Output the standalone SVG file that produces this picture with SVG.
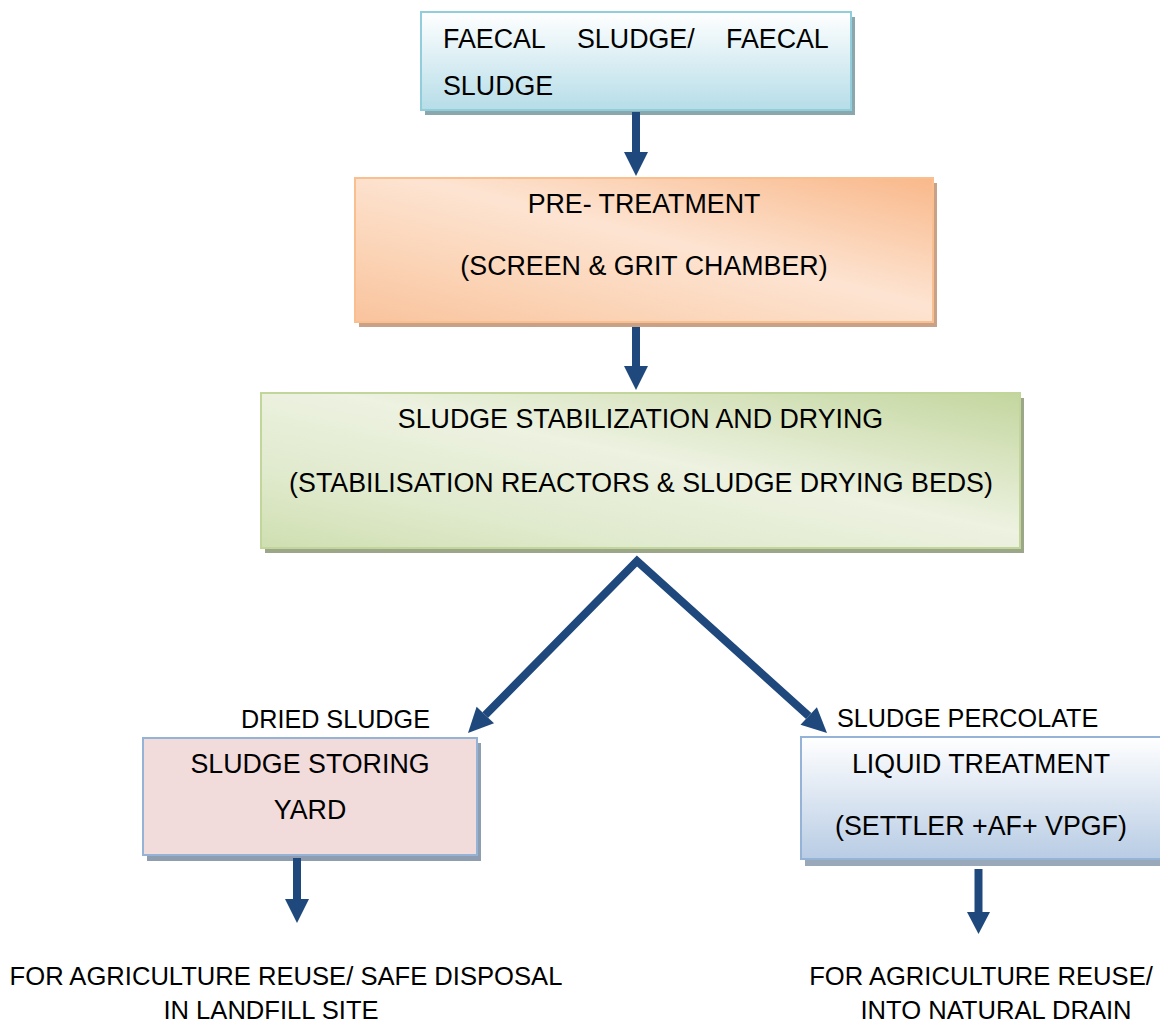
<svg xmlns="http://www.w3.org/2000/svg" width="1160" height="1025" viewBox="0 0 1160 1025">
<style>
  text { font-family: "Liberation Sans", Arial, sans-serif; fill: #000; }
  .t { font-size: 26.8px; }
  .c { text-anchor: middle; }
  .l { font-size: 25.2px; }
  .b { font-size: 25.6px; }
  .arrow { fill: #1f497d; }
  .shaft { stroke: #1f497d; stroke-width: 8; fill: none; }
</style>
<defs>
  <linearGradient id="gBlueTop" x1="0" y1="0" x2="0" y2="1">
    <stop offset="0" stop-color="#ffffff"/>
    <stop offset="1" stop-color="#b6dde8"/>
  </linearGradient>
  <linearGradient id="gOrange" x1="1" y1="0" x2="0" y2="1">
    <stop offset="0" stop-color="#f9b88a"/>
    <stop offset="0.45" stop-color="#fde4d2"/>
    <stop offset="0.75" stop-color="#fbd3b5"/>
    <stop offset="1" stop-color="#f9c39d"/>
  </linearGradient>
  <linearGradient id="gGreen" x1="1" y1="0" x2="0" y2="1">
    <stop offset="0" stop-color="#c3d69e"/>
    <stop offset="0.45" stop-color="#edf2e1"/>
    <stop offset="0.75" stop-color="#e0eacd"/>
    <stop offset="1" stop-color="#cfdfb1"/>
  </linearGradient>
  <linearGradient id="gBlue2" x1="0" y1="0" x2="0" y2="1">
    <stop offset="0" stop-color="#ffffff"/>
    <stop offset="1" stop-color="#b8cce4"/>
  </linearGradient>
</defs>

<g id="node-faecal-sludge">
  <rect x="425" y="17" width="430" height="98" fill="#8aa7ae"/>
  <rect x="421" y="12" width="430" height="98" fill="url(#gBlueTop)" stroke="#92cddc" stroke-width="2"/>
  <text class="t" x="443" y="48">FAECAL</text>
  <text class="t" x="577" y="48">SLUDGE/</text>
  <text class="t" x="726" y="48">FAECAL</text>
  <text class="t" x="443" y="95">SLUDGE</text>
</g>

<g id="node-pre-treatment">
  <rect x="359" y="183" width="578" height="144" fill="#c9a187"/>
  <rect x="355" y="178" width="578" height="144" fill="url(#gOrange)" stroke="#fabf8f" stroke-width="2"/>
  <text class="t c" x="644" y="213">PRE- TREATMENT</text>
  <text class="t c" x="644" y="275">(SCREEN &amp; GRIT CHAMBER)</text>
</g>

<g id="node-stabilization">
  <rect x="265" y="398" width="759" height="155" fill="#9ca78a"/>
  <rect x="261" y="393" width="759" height="155" fill="url(#gGreen)" stroke="#c2d69b" stroke-width="2"/>
  <text class="t c" x="640.5" y="428">SLUDGE STABILIZATION AND DRYING</text>
  <text class="t c" x="641" y="492">(STABILISATION REACTORS &amp; SLUDGE DRYING BEDS)</text>
</g>

<g id="node-storing-yard">
  <rect x="147" y="743" width="334" height="118" fill="#8e9db0"/>
  <rect x="143" y="738" width="334" height="117" fill="#f2dbdb" stroke="#95b3d7" stroke-width="2"/>
  <text class="t c" x="310" y="773">SLUDGE STORING</text>
  <text class="t c" x="310" y="819">YARD</text>
</g>

<g id="node-liquid-treatment">
  <rect x="805" y="743" width="360" height="123" fill="#9aa9ba"/>
  <rect x="801" y="737" width="360" height="122" fill="url(#gBlue2)" stroke="#95b3d7" stroke-width="2"/>
  <text class="t c" x="981" y="773">LIQUID TREATMENT</text>
  <text class="t c" x="981" y="835">(SETTLER +AF+ VPGF)</text>
</g>

<g id="labels">
  <text class="l" x="241" y="728">DRIED SLUDGE</text>
  <text class="l" x="837" y="727">SLUDGE PERCOLATE</text>
</g>

<g id="node-outputs">
  <text class="b c" x="286" y="985">FOR AGRICULTURE REUSE/ SAFE DISPOSAL</text>
  <text class="b c" x="271" y="1019">IN LANDFILL SITE</text>
  <text class="b c" x="981" y="985">FOR AGRICULTURE REUSE/</text>
  <text class="b c" x="996" y="1019">INTO NATURAL DRAIN</text>
</g>

<g id="connectors">
  <line class="shaft" x1="636" y1="112" x2="636" y2="153"/>
  <polygon class="arrow" points="624,152 648,152 636,176"/>

  <line class="shaft" x1="636" y1="327" x2="636" y2="367"/>
  <polygon class="arrow" points="624,366 648,366 636,390"/>

  <polyline class="shaft" stroke-linejoin="miter" points="485.3,715 637,561 808.7,716"/>
  <polygon class="arrow" points="494,723.3 476.6,706.7 468,733"/>
  <polygon class="arrow" points="800.5,724.8 816.9,707.2 827,733"/>

  <line class="shaft" x1="297" y1="858" x2="297" y2="900"/>
  <polygon class="arrow" points="285,899 309,899 297,923"/>

  <line class="shaft" x1="978.5" y1="869" x2="978.5" y2="913"/>
  <polygon class="arrow" points="967,912 990,912 978.5,934"/>
</g>
</svg>
